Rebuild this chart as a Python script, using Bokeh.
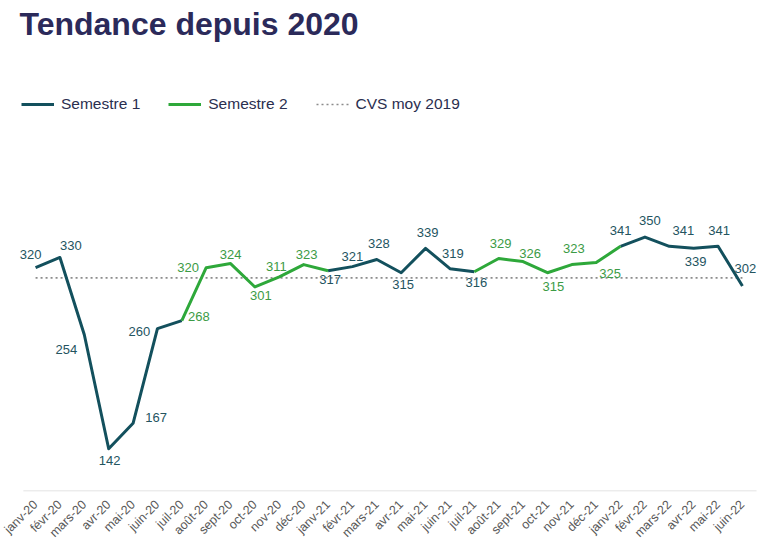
import math
from bokeh.plotting import figure
from bokeh.models import (ColumnDataSource, Legend, LegendItem, Range1d, FactorRange,
                          LabelSet)
from bokeh.core.properties import value
from bokeh.embed import file_html
from bokeh.resources import INLINE

# ---- data ----
months = ["janv-20", "févr-20", "mars-20", "avr-20", "mai-20", "juin-20",
          "juil-20", "août-20", "sept-20", "oct-20", "nov-20", "déc-20",
          "janv-21", "févr-21", "mars-21", "avr-21", "mai-21", "juin-21",
          "juil-21", "août-21", "sept-21", "oct-21", "nov-21", "déc-21",
          "janv-22", "févr-22", "mars-22", "avr-22", "mai-22", "juin-22"]
values = [320, 330, 254, 142, 167, 260,
          268, 320, 324, 301, 311, 323,
          317, 321, 328, 315, 339, 319,
          316, 329, 326, 315, 323, 325,
          341, 350, 341, 339, 341, 302]
cvs_2019 = 310
series_names = ["Semestre 1", "Semestre 2", "CVS moy 2019"]
title_text = "Tendance depuis 2020"

# ---- style ----
DARK = "#13505D"
GREEN = "#2EA83A"
DARK_LBL = "#24545F"
GREEN_LBL = "#3C9B45"
FONT = "Liberation Sans"

# label offsets in pixels (dx, dy; dy positive = downwards)
lbl_dx = [-5, 11, -18, 1, 23, -18, 17, -18, 0, 6, -3, 3, 2, 0, 2,
          2, 2, 3, 2, 2, 7, 6, 2, 14, 0, 5, 14, 2, 1, 3]
lbl_dy = [-13, -12, 15, 12, -6, 3, -4, 0, -9, 9, -10, -10, 9, -10, -16,
          12, -16, -15, 11, -15, -8, 14, -16, 11, -16, -17, -16, 13, -16, -17]
lbl_green = [False] * 6 + [True] * 6 + [False] * 6 + [False] + [True] * 5 + [False] * 6

n = len(months)
month_idx = [i % 12 for i in range(n)]  # 0 = janv
nan = float("nan")
s1 = [v if m <= 6 else nan for v, m in zip(values, month_idx)]
s2 = [v if (m >= 6 or m == 0) else nan for v, m in zip(values, month_idx)]
s2[0] = nan

PAD = 0.2  # factor units of padding so edge labels are not clipped
PX_PER_UNIT = 1.0175
FRAME_TOP = 45
FRAME_BOTTOM = 492
FRAME_H = FRAME_BOTTOM - FRAME_TOP
Y0 = 100
Y1 = Y0 + FRAME_H / PX_PER_UNIT

p = figure(width=767, height=548,
           x_range=FactorRange(*months, range_padding=PAD, range_padding_units="absolute"),
           y_range=Range1d(Y0, Y1), output_backend="svg", toolbar_location=None,
           y_axis_location=None, min_border_left=18, min_border_right=8,
           min_border_top=FRAME_TOP - 1, min_border_bottom=548 - FRAME_BOTTOM + 1)
p.x_range.factor_padding = 0
p.outline_line_color = None
p.xgrid.visible = False
p.ygrid.visible = False
p.background_fill_color = "white"
p.border_fill_color = "white"

p.title.text = title_text
p.title.text_font = FONT
p.title.text_font_size = "32px"
p.title.text_font_style = "bold"
p.title.text_color = "#2B2A5A"
p.title.align = "left"
p.title.offset = 1
p.title.standoff = 6

ax = p.xaxis[0]
ax.axis_line_color = None
ax.major_tick_line_color = None
ax.minor_tick_line_color = None
ax.major_label_orientation = math.pi / 4
ax.major_label_text_font = FONT
ax.major_label_text_font_size = "12.5px"
ax.major_label_text_color = "#595959"
ax.major_label_standoff = 5

# baseline (axis line) spanning the categories only
p.segment(x0=[0], x1=[n + 0.08], y0=[Y0 + 0.5 / PX_PER_UNIT], y1=[Y0 + 0.5 / PX_PER_UNIT],
          line_color="#D9D9D9", line_width=1)

r_cvs = p.line(months, [cvs_2019] * n, line_color="#8C8C8C", line_width=1.6,
               line_dash="2 3")
r1 = p.line(months, s1, line_color=DARK, line_width=3.0, line_join="round")
r2 = p.line(months, s2, line_color=GREEN, line_width=3.0, line_join="round")

src = ColumnDataSource(dict(
    x=months, y=values, txt=[str(v) for v in values], dx=lbl_dx,
    dy=[-d for d in lbl_dy],
    c=[GREEN_LBL if g else DARK_LBL for g in lbl_green]))
labels = LabelSet(x="x", y="y", text="txt", x_offset="dx", y_offset="dy", source=src,
                  text_align="center", text_baseline="middle", text_color="c",
                  text_font=value(FONT), text_font_size="13px")
p.add_layout(labels)

legend = Legend(items=[LegendItem(label=series_names[0], renderers=[r1]),
                       LegendItem(label=series_names[1], renderers=[r2]),
                       LegendItem(label=series_names[2], renderers=[r_cvs])],
                orientation="horizontal", location="top_left",
                margin=0, padding=0, spacing=28, glyph_width=33, glyph_height=20,
                label_standoff=7, label_text_font=FONT, label_text_font_size="15.5px",
                label_text_color="#2A2E4F", border_line_color=None,
                background_fill_alpha=0)
# legend row centred at page y = 105, glyphs starting at page x = 22
legend.location = (22 - 19, FRAME_H - (105 - FRAME_TOP) - 10)
p.add_layout(legend)

open("out.html", "w").write(file_html(p, INLINE))
